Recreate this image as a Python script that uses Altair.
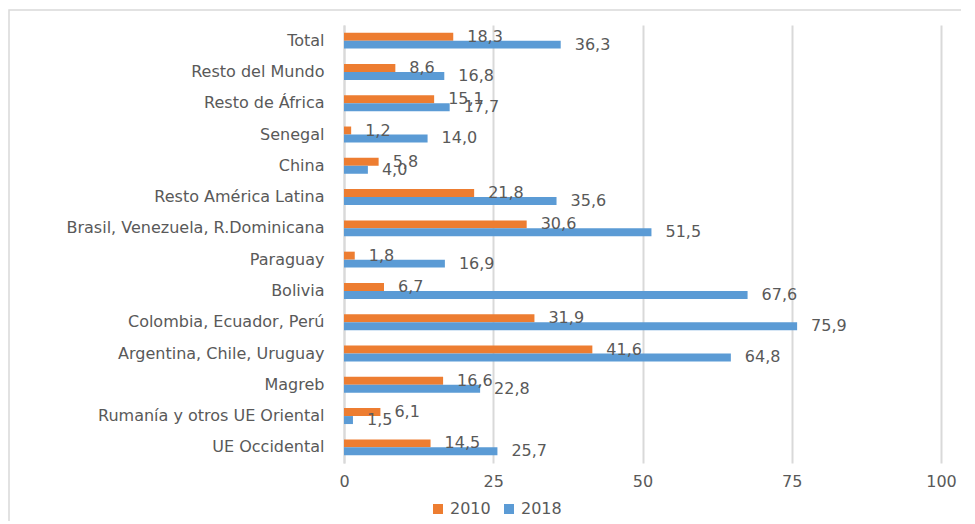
import altair as alt
import pandas as pd

categories = [
    "Total", "Resto del Mundo", "Resto de África", "Senegal", "China",
    "Resto América Latina", "Brasil, Venezuela, R.Dominicana", "Paraguay",
    "Bolivia", "Colombia, Ecuador, Perú", "Argentina, Chile, Uruguay",
    "Magreb", "Rumanía y otros UE Oriental", "UE Occidental",
]
v2010 = [18.3, 8.6, 15.1, 1.2, 5.8, 21.8, 30.6, 1.8, 6.7, 31.9, 41.6, 16.6, 6.1, 14.5]
v2018 = [36.3, 16.8, 17.7, 14.0, 4.0, 35.6, 51.5, 16.9, 67.6, 75.9, 64.8, 22.8, 1.5, 25.7]
years = ["2010", "2018"]
x_ticks = [0, 25, 50, 75, 100]
colors = ["#ED7D31", "#5B9BD5"]

rows = []
for c, a, b in zip(categories, v2010, v2018):
    for yr, v in zip(years, (a, b)):
        rows.append({"cat": c, "year": yr, "value": v,
                     "label": f"{v:.1f}".replace(".", ",")})
df = pd.DataFrame(rows)

FONT = "DejaVu Sans"
TXT = "#595959"
FS = 16

y_enc = alt.Y("cat:N", sort=categories,
              scale=alt.Scale(paddingInner=0.49, paddingOuter=0.245),
              axis=alt.Axis(title=None, ticks=False, domainColor="#d9d9d9",
                            domainWidth=2, labelColor=TXT, labelFontSize=FS,
                            labelFont=FONT, labelPadding=20, labelLimit=500))
yoff = alt.YOffset("year:N", sort=years)
x_enc = alt.X("value:Q", scale=alt.Scale(domain=[0, 100], nice=False),
              axis=alt.Axis(values=x_ticks, title=None, domain=False, ticks=False,
                            gridColor="#d9d9d9", gridWidth=2, labelColor=TXT,
                            labelFontSize=FS, labelFont=FONT, labelPadding=10,
                            labelFlush=False))
color_enc = alt.Color("year:N",
                      scale=alt.Scale(domain=years, range=colors),
                      legend=alt.Legend(title=None, orient="none", legendX=86,
                                        legendY=476, direction="horizontal",
                                        symbolType="square", symbolSize=100,
                                        symbolStrokeWidth=0,
                                        labelFontSize=FS, labelFont=FONT,
                                        labelColor=TXT, columnPadding=10))

base = alt.Chart(df)
bars = base.mark_bar().encode(y=y_enc, yOffset=yoff, x=x_enc, color=color_enc)
texts = base.mark_text(align="left", baseline="middle", dx=14, fontSize=FS,
                       font=FONT, color=TXT).encode(
    y=alt.Y("cat:N", sort=categories), yOffset=yoff, x="value:Q", text="label:N")

border = alt.Chart(pd.DataFrame({"a": [0]})).mark_rect(
    fill=None, stroke="#d9d9d9", strokeWidth=1.5, clip=False).encode(
    x=alt.value(-335), x2=alt.value(624), y=alt.value(-15), y2=alt.value(530))

chart = alt.layer(border, bars, texts).properties(
    width=597, height=438,
    autosize=alt.AutoSizeParams(type="none"),
    padding={"left": 336, "top": 17, "right": 20, "bottom": 58},
).configure_view(stroke=None)

chart.save("out.html", embed_options={"renderer": "svg", "actions": False})
